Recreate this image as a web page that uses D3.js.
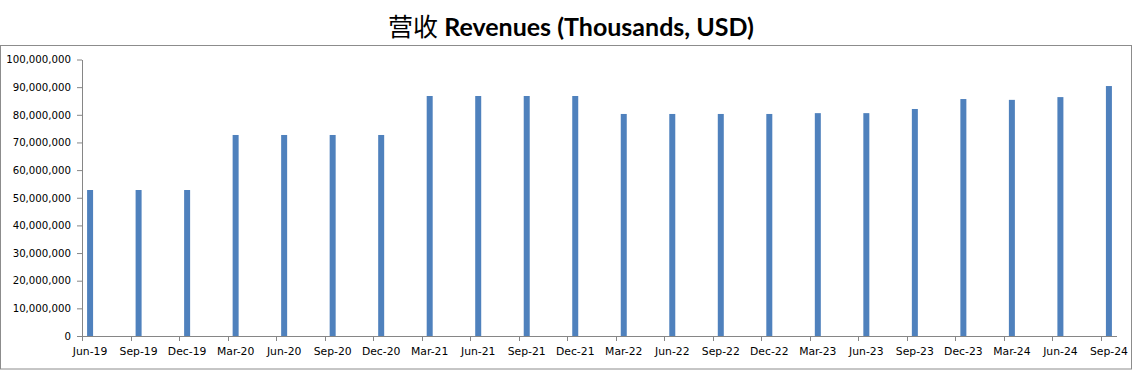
<!DOCTYPE html>
<html>
<head>
<meta charset="utf-8">
<script src="https://cdn.jsdelivr.net/npm/d3@7"></script>
<style>
  html, body { margin: 0; padding: 0; background: #fff; }
  svg { display: block; }
</style>
</head>
<body>
<svg id="chart" width="1145" height="371"></svg>
<script>
// ---- Data ----
const titleCJK = "营收";
const titleLatin = " Revenues (Thousands, USD)";
const categories = ["Jun-19","Sep-19","Dec-19","Mar-20","Jun-20","Sep-20","Dec-20","Mar-21","Jun-21","Sep-21","Dec-21","Mar-22","Jun-22","Sep-22","Dec-22","Mar-23","Jun-23","Sep-23","Dec-23","Mar-24","Jun-24","Sep-24"];
const revenues = [52800000, 52800000, 52800000, 72700000, 72700000, 72700000, 72700000, 86800000, 86800000, 86800000, 86800000, 80300000, 80300000, 80300000, 80300000, 80600000, 80600000, 82100000, 85700000, 85400000, 86400000, 90400000];
const yTicks = [0, 10000000, 20000000, 30000000, 40000000, 50000000, 60000000, 70000000, 80000000, 90000000, 100000000];

// ---- Layout ----
const svg = d3.select("#chart");
const axisColor = "#868686";
const barColor = "#4F81BD";

// months since Jun-19 (date axis, base unit month, major unit 3 months)
const monthIdx = categories.map((c, i) => i * 3);
const x = d3.scaleLinear().domain([0, 64]).range([82, 1117]);
const y = d3.scaleLinear().domain([0, 100000000]).range([336, 59.5]);

// outer border
svg.append("rect")
  .attr("x", 0.5).attr("y", 45.5)
  .attr("width", 1131).attr("height", 323.5)
  .attr("fill", "none").attr("stroke", "#8c8c8c").attr("stroke-width", 1);

// title
const title = svg.append("text")
  .attr("x", 571).attr("y", 36)
  .attr("text-anchor", "middle")
  .attr("font-size", 25)
  .attr("fill", "#000");
title.append("tspan")
  .attr("font-family", "'Noto Sans CJK SC', sans-serif")
  .attr("font-weight", "normal")
  .text(titleCJK);
title.append("tspan")
  .attr("font-family", "Lato, sans-serif")
  .attr("font-weight", "bold")
  .text(titleLatin);

// bars
const barW = 6;
svg.append("g").selectAll("rect")
  .data(revenues)
  .join("rect")
  .attr("x", (d, i) => x(monthIdx[i] + 0.5) - barW / 2)
  .attr("y", d => y(d))
  .attr("width", barW)
  .attr("height", d => y(0) - y(d))
  .attr("fill", barColor);

// y axis
const yAxis = d3.axisLeft(y)
  .tickValues(yTicks)
  .tickFormat(d3.format(","))
  .tickSize(5)
  .tickSizeOuter(0)
  .tickPadding(6);
const gy = svg.append("g").attr("transform", "translate(82,0)").call(yAxis);
gy.select(".domain").attr("stroke", axisColor);
gy.selectAll(".tick line").attr("stroke", axisColor);
gy.selectAll(".tick text")
  .attr("font-family", "'DejaVu Sans', Verdana, sans-serif")
  .attr("font-size", 10.2)
  .attr("fill", "#000");

// x axis: tick marks at quarter starts, labels centered on bars
const gx = svg.append("g").attr("transform", `translate(0,${y(0)})`);
gx.append("line")
  .attr("x1", x(0)).attr("x2", x(64))
  .attr("y1", 0.5).attr("y2", 0.5)
  .attr("stroke", axisColor);
gx.selectAll("line.tk")
  .data(monthIdx)
  .join("line")
  .attr("class", "tk")
  .attr("x1", d => Math.round(x(d)) + 0.5).attr("x2", d => Math.round(x(d)) + 0.5)
  .attr("y1", 0).attr("y2", 5)
  .attr("stroke", axisColor);
gx.selectAll("text")
  .data(categories)
  .join("text")
  .attr("x", (d, i) => x(monthIdx[i] + 0.5))
  .attr("y", 19)
  .attr("text-anchor", "middle")
  .attr("font-family", "'DejaVu Sans', Verdana, sans-serif")
  .attr("font-size", 10.8)
  .attr("fill", "#000")
  .text(d => d);
</script>
</body>
</html>
